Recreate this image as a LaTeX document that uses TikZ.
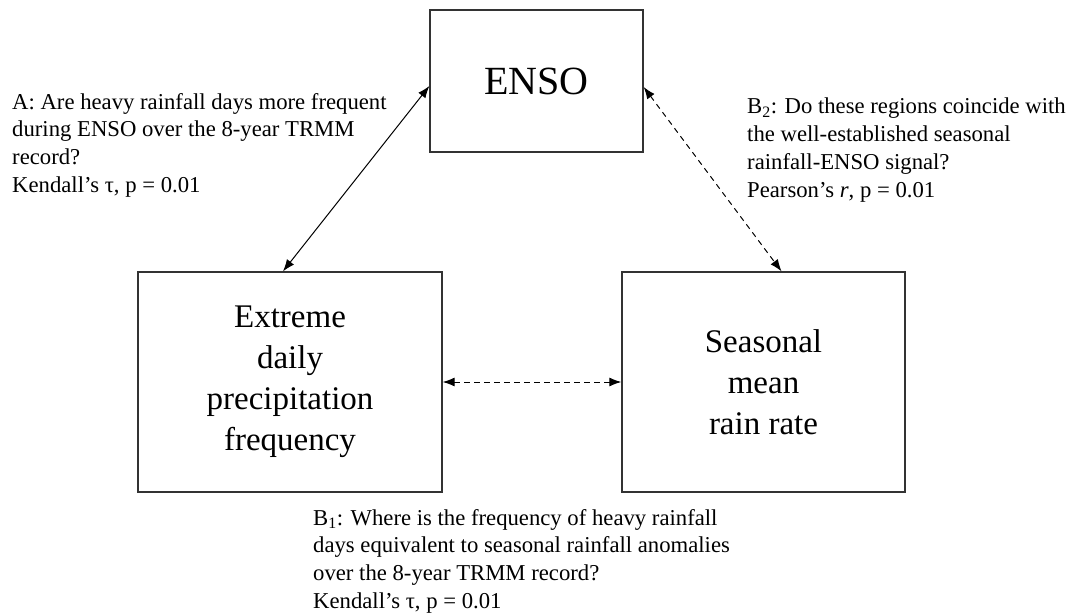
\documentclass[tikz,border=0pt]{standalone}
\usepackage{fontspec}
\setmainfont{Liberation Serif}
\usetikzlibrary{arrows.meta}
\usetikzlibrary{positioning}

\begin{document}
\begin{tikzpicture}[x=1pt,y=-1pt,
    box/.style={draw=black!80,line width=1.3pt,inner sep=0pt},
    boxtxt/.style={align=center,font=\fontsize{33}{41}\selectfont},
    note/.style={align=left,anchor=north west,inner sep=0pt,font=\fontsize{22.7}{27.7}\selectfont},
    link/.style={{Latex[length=12pt,width=9pt]}-{Latex[length=12pt,width=9pt]},line width=1pt},
    dashlink/.style={link,dash pattern=on 5.5pt off 4.5pt}]
      \useasboundingbox (0,0) rectangle (1069,615);
      % the three boxes
      \node[box,minimum width=213pt,minimum height=142pt,font=\fontsize{40}{48}\selectfont] (enso) at (536.5,81) {ENSO};
      \node[box,boxtxt,minimum width=304pt,minimum height=220pt] (extreme) at (290,382) {Extreme\\daily\\precipitation\\frequency};
      \node[box,boxtxt,minimum width=283pt,minimum height=220pt] (seasonal) at (763.5,382) {Seasonal\\mean\\rain rate};
      % links between them
      \draw[link] ([xshift=-7pt]extreme.north) -- ([yshift=-5pt]enso.west);
      \draw[dashlink] ([yshift=-6pt]enso.east) -- ([xshift=18pt]seasonal.north);
      \draw[dashlink] (extreme.east) -- (seasonal.west);
      % questions
      \node[note] (qa) at (12,93) {A: Are heavy rainfall days more frequent\\during ENSO over the 8-year TRMM\\record?\\Kendall’s τ, p = 0.01};
      \node[note] (qbtwo) at (747,98) {B\textsubscript{2}: Do these regions coincide with\\the well-established seasonal\\rainfall-ENSO signal?\\Pearson’s \textit{r}, p = 0.01};
      \node[note] (qbone) at (313,509) {B\textsubscript{1}: Where is the frequency of heavy rainfall\\days equivalent to seasonal rainfall anomalies\\over the 8-year TRMM record?\\Kendall’s τ, p = 0.01};
    \end{tikzpicture}
\end{document}
